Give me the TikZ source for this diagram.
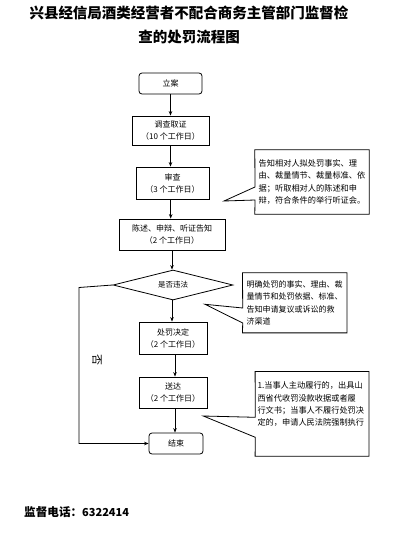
\documentclass[tikz,border=0pt]{standalone}
\usepackage{fontspec}
\newfontfamily\cjk{Noto Sans CJK SC}
\usetikzlibrary{shapes.geometric,arrows.meta}
\begin{document}
\begin{tikzpicture}[x=1pt,y=-1pt,
  box/.style={draw, line width=0.8pt, inner sep=0pt, align=center,
    font=\cjk\fontsize{8}{12}\selectfont},
  rbox/.style={box, rounded corners=3pt},
  arr/.style={line width=0.8pt, -{Stealth[length=4.5pt,width=3.5pt]}},
  ctext/.style={inner sep=0pt, align=left, font=\cjk\fontsize{8.2}{12.4}\selectfont},
  cframe/.style={line width=0.8pt}
]
\path[use as bounding box] (0,0) rectangle (414,533);

% title
\node[font=\cjk\bfseries\fontsize{14.5}{18}\selectfont] (title1) at (189,13) {兴县经信局酒类经营者不配合商务主管部门监督检};
\node[font=\cjk\bfseries\fontsize{14.5}{18}\selectfont] (title2) at (189,37) {查的处罚流程图};

% main flow
\node[rbox, minimum width=63pt, minimum height=21pt] (start) at (170.5,83.5) {立案};
\node[box, minimum width=77pt, minimum height=29pt] (inv) at (170.5,130.5) {调查取证\\（10 个工作日）};
\node[box, minimum width=73pt, minimum height=32pt] (rev) at (172.5,183) {审查\\（3 个工作日）};
\node[box, minimum width=106pt, minimum height=31pt] (tell) at (172,234.5) {陈述、申辩、听证告知\\（2 个工作日）};
\node[draw, line width=0.8pt, diamond, inner sep=0pt, aspect=4, minimum width=120pt, minimum height=30pt,
  font=\cjk\fontsize{7.5}{9}\selectfont] (dec) at (173,285) {是否违法};
\node[box, minimum width=68pt, minimum height=32pt] (pun) at (173,338) {处罚决定\\（2 个工作日）};
\node[box, minimum width=68pt, minimum height=31pt] (del) at (173,392.5) {送达\\（2 个工作日）};
\node[rbox, minimum width=54pt, minimum height=21pt] (end) at (176,443.5) {结束};

\draw[arr] (start.south) -- (start.south |- inv.north);
\draw[arr] (inv.south) -- (inv.south |- rev.north);
\draw[arr] ([xshift=-1.8pt]rev.south) -- ([xshift=-1.8pt]rev.south |- tell.north);
\draw[arr] (tell.south) -- (tell.south |- dec.north);
\draw[arr] ([xshift=-1pt]dec.south) -- ([xshift=-1pt]dec.south |- pun.north);
\draw[arr] ([xshift=2pt]pun.south) -- ([xshift=2pt]pun.south |- del.north);
\draw[arr] ([xshift=2pt]del.south) -- ([xshift=2pt]del.south |- end.north);

% no branch
\coordinate (nocorner) at (79,287.5);
\draw[arr] (dec.west) -- (nocorner) |- (end.west);
\node[rotate=-90, inner sep=0pt, font=\cjk\fontsize{11}{13}\selectfont] (no) at (97,360) {否};

% callout 1
\node[ctext, minimum width=114pt, minimum height=64pt] (c1) at (312,182)
  {告知相对人拟处罚事实、理\\由、裁量情节、裁量标准、依\\据；听取相对人的陈述和申\\辩，符合条件的举行听证会。};
\coordinate (t1) at (224,201);
\coordinate (t1a) at (255,187);
\coordinate (t1b) at (255,200);
\draw[cframe] (c1.south west) -- (t1b) -- (t1) -- (t1a) -- (c1.north west) -- (c1.north east) -- (c1.south east) -- cycle;

% callout 2
\node[ctext, font=\cjk\fontsize{8}{12.4}\selectfont, minimum width=104pt, minimum height=59.7pt] (c2) at (294.7,302.8)
  {明确处罚的事实、理由、裁\\量情节和处罚依据、标准、\\告知申请复议或诉讼的救\\济渠道};
\coordinate (t2) at (205,304.3);
\coordinate (t2a) at (242.7,308);
\coordinate (t2b) at (242.7,323);
\draw[cframe] (c2.south west) -- (t2b) -- (t2) -- (t2a) -- (c2.north west) -- (c2.north east) -- (c2.south east) -- cycle;

% callout 3
\node[inner sep=0pt, minimum width=113.4pt, minimum height=84.3pt] (c3) at (312,413.85) {};
\node[ctext, anchor=north west] (c3t) at (257.3,381.5)
  {1.当事人主动履行的，出具山\\西省代收罚没款收据或者履\\行文书；当事人不履行处罚决\\定的，申请人民法院强制执行};
\coordinate (t3) at (203.3,416);
\coordinate (t3a) at (255.3,417.3);
\coordinate (t3b) at (255.3,437.3);
\draw[cframe] (c3.south west) -- (t3b) -- (t3) -- (t3a) -- (c3.north west) -- (c3.north east) -- (c3.south east) -- cycle;

% phone
\node[anchor=west, inner sep=0pt, font=\cjk\bfseries\fontsize{11.6}{14}\selectfont] (phone) at (24,511.7)
  {监督电话：{\fontsize{11}{14}\selectfont 6322414}};
\end{tikzpicture}
\end{document}
